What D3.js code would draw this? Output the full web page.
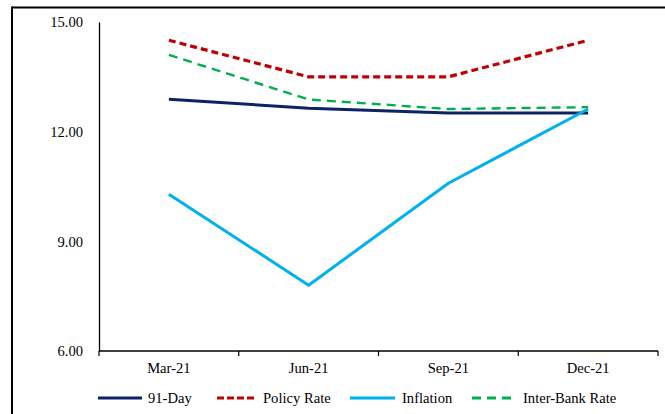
<!DOCTYPE html>
<html>
<head>
<meta charset="utf-8">
<script src="https://cdn.jsdelivr.net/npm/d3@7"></script>
<style>
  html, body { margin: 0; padding: 0; background: #fff; }
  svg { display: block; }
</style>
</head>
<body>
<svg id="chart" width="665" height="414"></svg>
<script>
// Quarterly rates (%)
const quarters = ["Mar-21", "Jun-21", "Sep-21", "Dec-21"];
const day91 = [12.89, 12.64, 12.51, 12.51];
const policyRate = [14.5, 13.5, 13.5, 14.5];
const inflation = [10.29, 7.8, 10.59, 12.62];
const interBank = [14.1, 12.88, 12.62, 12.67];
const yTicks = [6, 9, 12, 15];

const FONT = "'Liberation Serif', 'Times New Roman', Times, 'DejaVu Serif', serif";
const FONT_SIZE = "14.6px";

const series = [
  { name: "91-Day", values: day91, color: "#0c2466", dash: null, width: 3 },
  { name: "Policy Rate", values: policyRate, color: "#c00000", dash: "7,4", width: 3.2 },
  { name: "Inflation", values: inflation, color: "#00b0f0", dash: null, width: 3 },
  { name: "Inter-Bank Rate", values: interBank, color: "#00b050", dash: "9,6", width: 2.4 }
];

const svg = d3.select("#chart");

// frame around the chart area
svg.append("line").attr("x1", 12).attr("x2", 665).attr("y1", 7.5).attr("y2", 7.5)
  .attr("stroke", "#000").attr("stroke-width", 2);
svg.append("line").attr("x1", 12).attr("x2", 12).attr("y1", 6.5).attr("y2", 414)
  .attr("stroke", "#000").attr("stroke-width", 2);

const plotLeft = 99, plotRight = 658, plotTop = 22, plotBottom = 351;

const x = d3.scaleBand().domain(quarters).range([plotLeft, plotRight]).paddingInner(0).paddingOuter(0);
const y = d3.scaleLinear().domain([6, 15]).range([plotBottom, plotTop]);
const cx = q => x(q) + x.bandwidth() / 2;

// y axis
const yAxis = svg.append("g").attr("transform", `translate(${plotLeft},0)`)
  .call(d3.axisLeft(y).tickValues(yTicks).tickSize(0).tickPadding(16).tickFormat(d3.format(".2f")));
yAxis.attr("font-family", null).attr("font-size", null);
yAxis.select(".domain").attr("stroke", "#000").attr("stroke-width", 1.3);
yAxis.selectAll("text")
  .style("font-family", FONT).style("font-size", FONT_SIZE).attr("fill", "#000");

// x axis with ticks on category boundaries
const xAxisG = svg.append("g").attr("transform", `translate(0,${plotBottom})`);
xAxisG.append("line").attr("x1", plotLeft).attr("x2", plotRight).attr("y1", 0).attr("y2", 0)
  .attr("stroke", "#000").attr("stroke-width", 1.5);
const boundaries = quarters.map(q => x(q)).concat([plotRight]);
xAxisG.selectAll("line.tk").data(boundaries).enter().append("line").attr("class", "tk")
  .attr("x1", d => d).attr("x2", d => d).attr("y1", 0).attr("y2", 5)
  .attr("stroke", "#000").attr("stroke-width", 1.2);
xAxisG.selectAll("text").data(quarters).enter().append("text")
  .attr("x", d => cx(d)).attr("y", 22).attr("text-anchor", "middle")
  .style("font-family", FONT).style("font-size", FONT_SIZE).attr("fill", "#000")
  .text(d => d);

// lines
const line = d3.line().x((d, i) => cx(quarters[i])).y(d => y(d));
svg.append("g").selectAll("path").data(series).enter().append("path")
  .attr("d", d => line(d.values))
  .attr("fill", "none")
  .attr("stroke", d => d.color)
  .attr("stroke-width", d => d.width)
  .attr("stroke-dasharray", d => d.dash)
  .attr("stroke-linejoin", "round");

// legend
const legendY = 398;
const legendItems = [
  { s: series[0], x0: 98, x1: 142, tx: 148 },
  { s: series[1], x0: 217, x1: 256, tx: 263 },
  { s: series[2], x0: 350, x1: 395, tx: 402 },
  { s: series[3], x0: 472, x1: 514, tx: 523 }
];
const lg = svg.append("g");
legendItems.forEach(it => {
  lg.append("line").attr("x1", it.x0).attr("x2", it.x1).attr("y1", legendY).attr("y2", legendY)
    .attr("stroke", it.s.color).attr("stroke-width", 3)
    .attr("stroke-dasharray", it.s.name === "Policy Rate" ? "7,3" : it.s.dash);
  lg.append("text").attr("x", it.tx).attr("y", legendY + 5)
    .style("font-family", FONT).style("font-size", FONT_SIZE).attr("fill", "#000")
    .text(it.s.name);
});
</script>
</body>
</html>
